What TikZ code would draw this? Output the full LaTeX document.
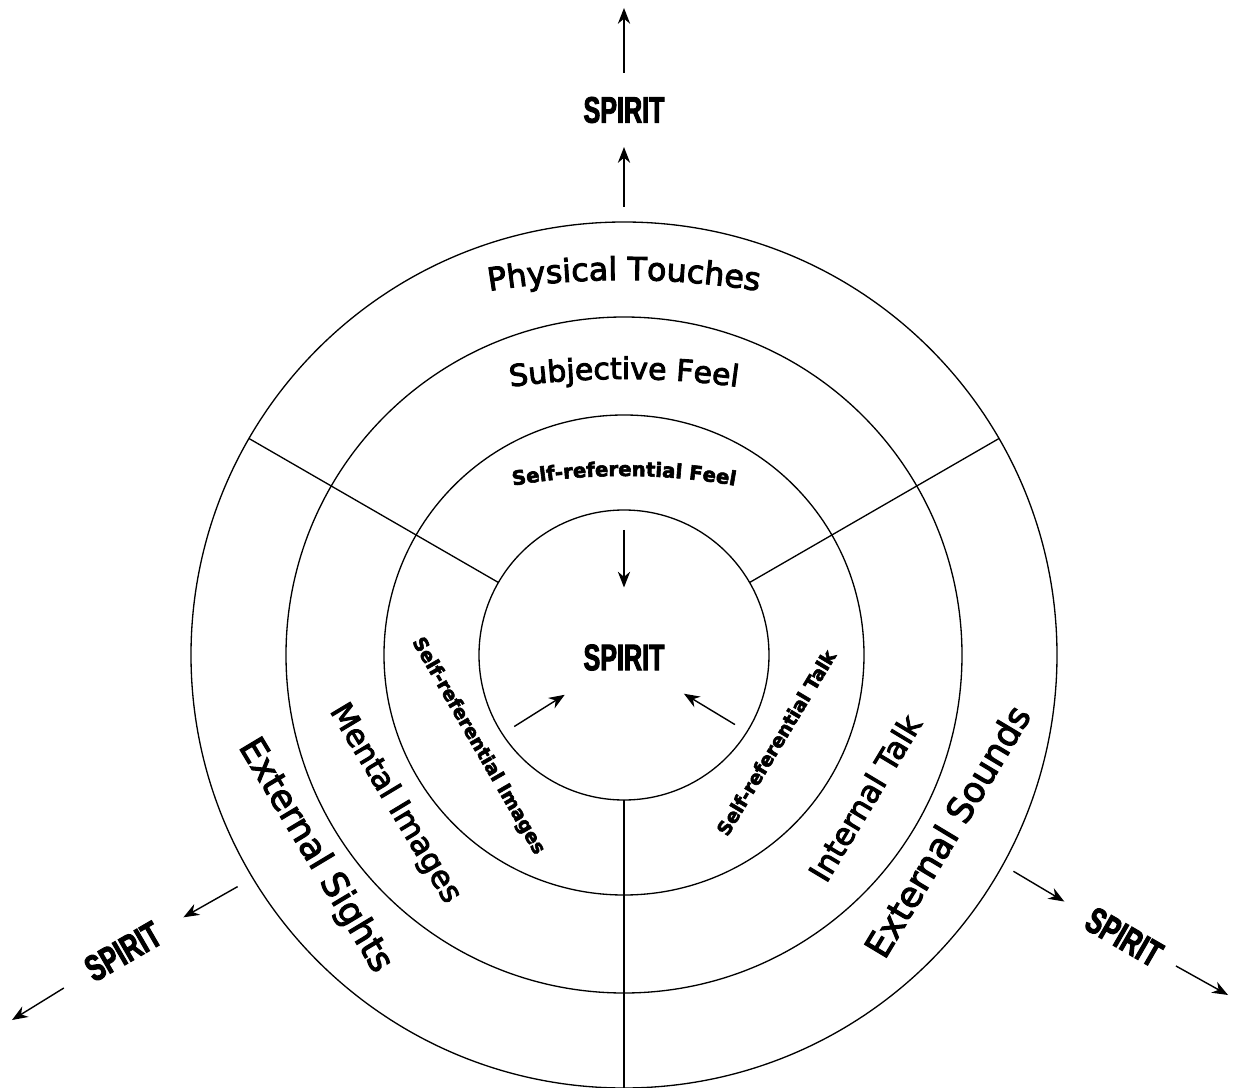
\documentclass[tikz,border=0pt]{standalone}
\usepackage{fontspec}
\setmainfont{DejaVu Sans}[FakeBold=3]
\newfontfamily\spiritfont[FakeStretch=0.68, FakeBold=2.5]{Liberation Sans Bold}
\usetikzlibrary{arrows.meta, decorations.text}

\begin{document}
\begin{tikzpicture}
% Définition des styles
    \tikzstyle{ring} = [circle, draw, line width=0.75pt, inner sep=0pt, outer sep=0pt]
    \tikzstyle{spirit} = [font=\spiritfont\fontsize{21}{21}\selectfont, inner sep=0pt, outer xsep=0.58cm, outer ysep=0.48cm]
    \tikzstyle{outertext} = [font=\fontsize{20}{22}\selectfont, inner sep=0pt]
    \tikzstyle{midtext} = [font=\fontsize{17.5}{20}\selectfont, inner sep=0pt]
    \tikzstyle{innertext} = [font=\bfseries\fontsize{10.8}{12}\selectfont, inner sep=0pt]
    \tikzstyle{line} = [draw, line width=0.75pt]
    \tikzstyle{arr} = [draw, line width=0.8pt, -{Stealth[length=9pt, width=7pt]}]
    \tikzstyle{arch} = [decorate, decoration={text along path, text align=center}]

    \useasboundingbox (-12.48,-8.64) rectangle (12.18,13.1);

    % Les cercles
    \node [ring, minimum size=17.32cm] (outer) at (0,0) {};
    \node [ring, minimum size=13.52cm] (middle) at (0,0) {};
    \node [ring, minimum size=9.6cm] (inner) at (0,0) {};
    \node [ring, minimum size=5.8cm] (core) at (0,0) {};

    % Les séparations
    \path [line] (core.150) -- (outer.150);
    \path [line] (core.30) -- (outer.30);
    \path [line] (core.south) -- (outer.south);

    % Textes en arc
    \path [arch, decoration={text={|\fontsize{18}{20}\selectfont|Physical Touches}}]
        ([shift={(0,-9.1)}]105:16.6) arc[start angle=105, end angle=75, radius=16.6];
    \path [arch, decoration={text={|\fontsize{17}{20}\selectfont|Subjective Feel}}]
        ([shift={(0,-10.98)}]105:16.5) arc[start angle=105, end angle=75, radius=16.5];
    \path [arch, decoration={text={|\bfseries\fontsize{11.2}{13}\selectfont|Self-referential Feel}}]
        ([shift={(0,-9.22)}]108:12.8) arc[start angle=108, end angle=72, radius=12.8];

    % Textes des côtés
    \node [outertext, rotate=-59] (sights) at (213:7.37) {External Sights};
    \node [midtext, rotate=-59] (images) at (213:5.46) {Mental Images};
    \node [innertext, rotate=-60] (selfimages) at (212:3.44) {Self-referential Images};
    \node [outertext, rotate=59] (sounds) at (-28.6:7.36) {External Sounds};
    \node [midtext, rotate=59] (talk) at (-30.7:5.6) {Internal Talk};
    \node [innertext, rotate=59] (selftalk) at (-30:3.51) {Self-referential Talk};

    % Les SPIRIT
    \node [spirit, circle, minimum size=2.8cm, outer sep=0pt] (spcore) at (0,-0.05) {SPIRIT};
    \node [spirit] (sptop) at (0,10.9) {SPIRIT};
    \node [spirit, rotate=30] (spleft) at (-10.02,-5.93) {SPIRIT};
    \node [spirit, rotate=-30] (spright) at (10.0,-5.64) {SPIRIT};
    \coordinate (topend) at (0,12.94);
    \coordinate (leftend) at (-12.24,-7.3);
    \coordinate (rightend) at (12.08,-6.8);

    % Flèches
    \path [arr, shorten <=0.4cm] (core.north) -- (spcore);
    \path [arr, shorten <=0.28cm] (core.213) -- (spcore);
    \path [arr, shorten <=0.28cm] (core.328) -- (spcore);
    \path [arr, shorten <=0.3cm] (outer.north) -- (sptop);
    \path [arr] (sptop) -- (topend);
    \path [arr, shorten <=0.35cm] (outer.211) -- (spleft);
    \path [arr] (spleft) -- (leftend);
    \path [arr, shorten <=0.25cm] (outer.331) -- (spright);
    \path [arr, shorten <=-0.2cm] (spright) -- (rightend);
\end{tikzpicture}
\end{document}
